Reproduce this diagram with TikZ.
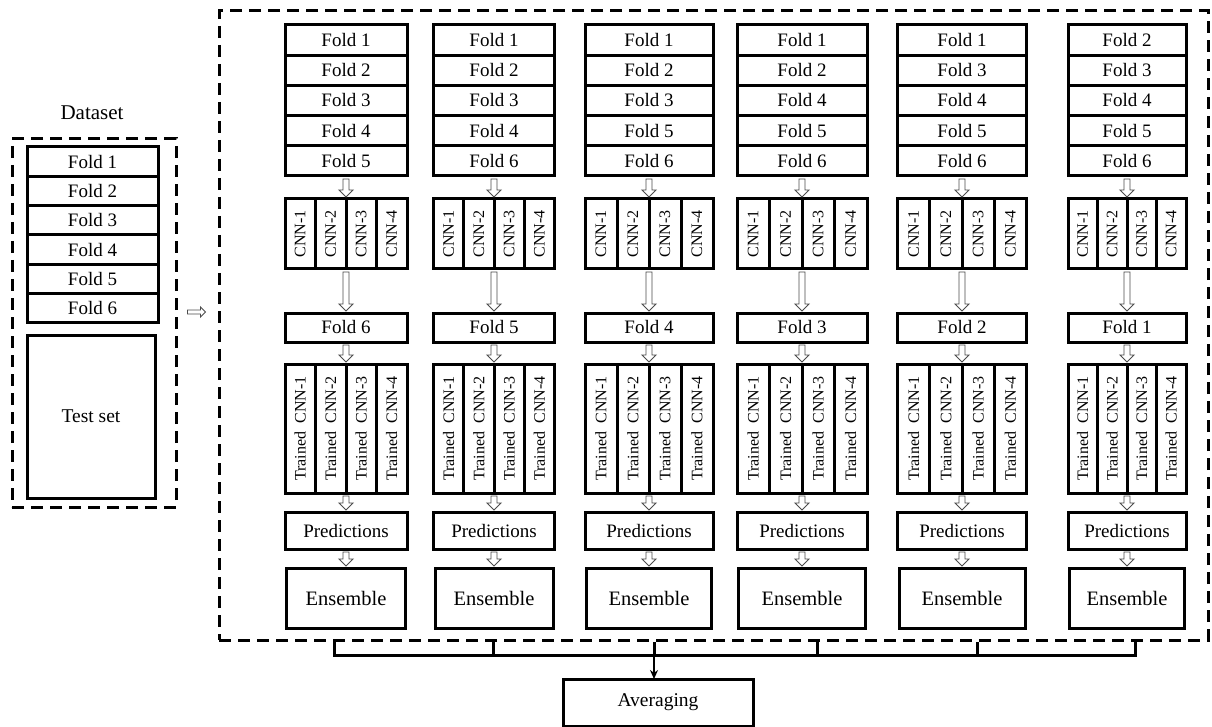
\documentclass[tikz,border=0pt]{standalone}
\usepackage{fontspec}
\usepackage{graphicx}
\setmainfont{Liberation Serif}
\usetikzlibrary{arrows.meta, calc, positioning}

% outlined block arrows between boxes
\newcommand{\hollowdown}[2]{%
  \draw[hollow] let \p1=(#1), \p2=(#2) in
    (\x1-3pt,\y1-3pt) -- (\x1+3pt,\y1-3pt) -- (\x1+3pt,\y2+9pt) -- (\x1+7pt,\y2+9pt)
    -- (\x1,\y2+2pt) -- (\x1-7pt,\y2+9pt) -- (\x1-3pt,\y2+9pt) -- cycle;}
\newcommand{\hollowright}[2]{%
  \draw[hollow] let \p1=(#1), \p2=(#2) in
    (\x1+10pt,\y1+2pt) -- (\x1+10pt,\y1-2pt) -- (\x2-17pt,\y1-2pt) -- (\x2-17pt,\y1-5pt)
    -- (\x2-12pt,\y1) -- (\x2-17pt,\y1+5pt) -- (\x2-17pt,\y1+2pt) -- cycle;}

\begin{document}
\begin{tikzpicture}[
    x=1pt, y=-1pt,
    box/.style={draw, line width=3pt, inner sep=0pt, outer sep=0pt, font=\fontsize{19}{22}\selectfont},
    foldbox/.style={box, minimum height=30.2pt},
    cnncell/.style={box, minimum height=70pt, font=\fontsize{16}{19}\selectfont},
    trainedcell/.style={box, minimum height=129pt, font=\fontsize{16}{19}\selectfont},
    dashbox/.style={draw, line width=3pt, dash pattern=on 12pt off 7pt, inner sep=0pt},
    hollow/.style={draw=black!70, line width=0.9pt, fill=white},
    bracket/.style={line width=3pt},
    gather/.style={-{Stealth[length=9pt, width=8pt]}, line width=2pt},
]
\useasboundingbox (0,0) rectangle (1212,727);

% Dataset on the left
\node[dashbox, minimum width=164pt, minimum height=368pt] (dsframe) at (94,323) {};
\node[font=\fontsize{21}{25}\selectfont] (dslabel) at (92,113) {Dataset};
\foreach \k in {1,...,6}
  \node[foldbox, minimum width=131pt, minimum height=29.33pt, anchor=north] (ds\k) at (92.5,{147+(\k-1)*29.33}) {Fold \k};
\node[box, minimum width=128pt, minimum height=163pt, font=\fontsize{19.5}{23}\selectfont] (testset) at (91,416.5) {Test set};

% Cross-validation frame
\node[dashbox, minimum width=989pt, minimum height=629pt] (frame) at (713.5,325.5) {};
\hollowright{[yshift=11pt]dsframe.east}{frame.west}

% One column per held-out fold
\foreach \c/\cx/\w in {1/346/122, 2/494/121, 3/649/128, 4/802/130, 5/962/129, 6/1127/118} {
  \pgfmathtruncatemacro{\test}{7-\c}
  \pgfmathsetmacro{\cw}{\w/4}
  \pgfmathsetmacro{\ew}{\w-3}
  % training folds
  \foreach \k in {1,...,6} {
    \ifnum\k=\test\else
      \pgfmathtruncatemacro{\row}{\k<\test ? \k : \k-1}
      \node[foldbox, minimum width=\w pt, anchor=north] (c\c-r\row) at (\cx,{25+(\row-1)*30.2}) {Fold \k};
    \fi
  }
  % networks
  \foreach \n in {1,...,4} {
    \node[cnncell, minimum width=\cw pt] (c\c-cnn\n) at ({\cx-\w/2+(\n-0.5)*\cw},234) {\rotatebox{90}{CNN-\n}};
    \node[trainedcell, minimum width=\cw pt] (c\c-tr\n) at ({\cx-\w/2+(\n-0.5)*\cw},428.5) {\rotatebox{90}{Trained\ \ CNN-\n}};
  }
  \node[foldbox, minimum width=\w pt, minimum height=29pt] (c\c-test) at (\cx,327.5) {Fold \test};
  \node[box, minimum width=\w pt, minimum height=37pt] (c\c-pred) at (\cx,530.5) {Predictions};
  \node[box, minimum width=\ew pt, minimum height=60pt, font=\fontsize{20.5}{24}\selectfont] (c\c-ens) at (\cx,598) {Ensemble};
  % arrows
  \hollowdown{c\c-r5.south}{c\c-cnn1.north}
  \hollowdown{c\c-cnn2.south east}{c\c-test.north}
  \hollowdown{c\c-test.south}{c\c-tr1.north}
  \hollowdown{c\c-tr2.south east}{c\c-pred.north}
  \hollowdown{c\c-pred.south}{c\c-ens.north}
}

% Averaging of the six ensembles
\node[box, minimum width=190pt, minimum height=47pt, font=\fontsize{19.5}{23}\selectfont] (avg) at (658,702.5) {Averaging};
\foreach \i/\tx in {1/334, 2/493, 3/654, 4/817, 5/977, 6/1135} {
  \coordinate (t\i) at (\tx,642);
  \coordinate (b\i) at (\tx,655);
}
\draw[bracket] (t1) -- (b1) -- (b6) -- (t6);
\foreach \i in {2,...,5}
  \draw[bracket] (t\i) -- (b\i);
\draw[gather] (b3) -- (b3 |- avg.north);

\end{tikzpicture}
\end{document}
